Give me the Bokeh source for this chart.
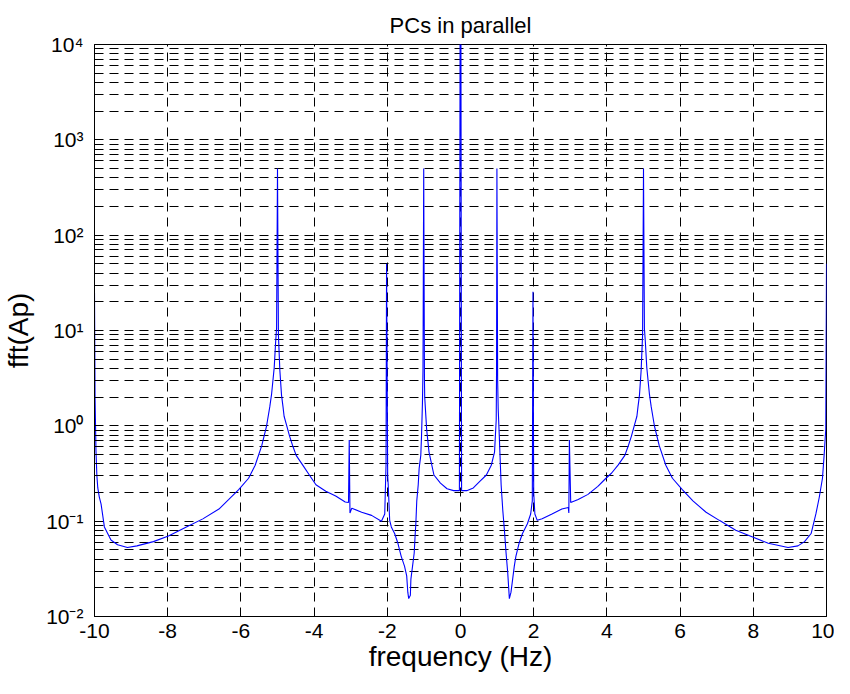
from bokeh.plotting import figure
from bokeh.models import FixedTicker, Range1d
from bokeh.embed import file_html
from bokeh.resources import INLINE

# ---- data ----
freq = [
    -10.00, -9.985, -9.96, -9.935, -9.91, -9.87, -9.82, -9.73, -9.55, -9.37,
    -9.10, -8.84, -8.39, -7.98, -7.49, -7.04, -6.60, -6.33, -6.06, -5.79,
    -5.61, -5.43, -5.30, -5.21, -5.16, -5.09, -5.05, -5.025, -5.00, -4.975,
    -4.935, -4.89, -4.85, -4.82, -4.76, -4.67, -4.58, -4.49, -4.31, -4.13,
    -3.95, -3.68, -3.41, -3.15, -3.06, -3.04, -3.02, -2.97, -2.70, -2.43,
    -2.16, -2.07, -2.054, -2.035, -2.02, -1.99, -1.975, -1.935, -1.89, -1.80,
    -1.71, -1.62, -1.53, -1.47, -1.44, -1.415, -1.37, -1.355, -1.31, -1.265,
    -1.237, -1.22, -1.195, -1.155, -1.13, -1.085, -1.065, -1.04, -1.025, -1.005,
    -0.985, -0.978, -0.925, -0.86, -0.726, -0.548, -0.368, -0.188, -0.03, -0.01,
    0.01, 0.03, 0.17, 0.35, 0.527, 0.707, 0.841, 0.93, 0.976, 0.985, 0.995,
    1.015, 1.03, 1.06, 1.11, 1.156, 1.20, 1.245, 1.29, 1.335, 1.38,
    1.425, 1.47, 1.513, 1.60, 1.694, 1.828, 1.917, 1.962, 1.98, 2.00,
    2.032, 2.097, 2.231, 2.50, 2.769, 2.946, 2.96, 2.975, 3.011, 3.215,
    3.484, 3.753, 3.933, 4.13, 4.31, 4.49, 4.58, 4.67, 4.76, 4.82,
    4.85, 4.89, 4.935, 4.975, 5.00, 5.025, 5.05, 5.09, 5.16, 5.21,
    5.30, 5.43, 5.61, 5.79, 6.06, 6.35, 6.71, 7.07, 7.52, 7.965,
    8.41, 8.95, 9.22, 9.40, 9.58, 9.71, 9.80, 9.89, 9.935, 9.98,
    10.00,
]
amp = [
    25.0, 2.0, 0.55, 0.30, 0.223, 0.18, 0.151, 0.087, 0.0635, 0.0565,
    0.053, 0.0551, 0.061, 0.0698, 0.0869, 0.1057, 0.134, 0.169, 0.214, 0.282,
    0.386, 0.619, 0.99, 1.59, 2.18, 4.08, 7.66, 10.5, 500.0, 9.0,
    3.78, 2.1, 1.59, 1.26, 1.04, 0.78, 0.61, 0.49, 0.387, 0.305,
    0.241, 0.206, 0.184, 0.159, 0.157, 0.71, 0.122, 0.137, 0.124, 0.115,
    0.100, 0.119, 0.206, 0.386, 50.0, 0.30, 0.241, 0.102, 0.087, 0.0742,
    0.0586, 0.0428, 0.0338, 0.0267, 0.018, 0.0154, 0.0167, 0.0247, 0.0338, 0.0463,
    0.0742, 0.094, 0.163, 0.241, 0.357, 0.49, 0.78, 1.72, 3.78, 500.0,
    3.0, 2.01, 0.918, 0.53, 0.305, 0.251, 0.219, 0.209, 0.209, 30000.0,
    30000.0, 0.209, 0.209, 0.223, 0.261, 0.305, 0.386, 0.53, 1.16, 3.78, 500.0,
    3.0, 1.5, 0.78, 0.241, 0.129, 0.0804, 0.0463, 0.0289, 0.0154, 0.018,
    0.0247, 0.0338, 0.0428, 0.0586, 0.0742, 0.094, 0.119, 0.163, 25.5, 0.2,
    0.119, 0.102, 0.106, 0.119, 0.134, 0.139, 0.122, 0.71, 0.157, 0.169,
    0.191, 0.232, 0.272, 0.32, 0.39, 0.49, 0.61, 0.78, 1.04, 1.26,
    1.59, 2.1, 3.78, 9.0, 500.0, 10.5, 7.66, 4.08, 2.18, 1.59,
    0.99, 0.619, 0.386, 0.282, 0.214, 0.163, 0.124, 0.102, 0.0804, 0.0687,
    0.0586, 0.053, 0.0551, 0.061, 0.0742, 0.119, 0.176, 0.282, 0.49, 0.92,
    50.0,
]

x_ticks = [-10, -8, -6, -4, -2, 0, 2, 4, 6, 8, 10]
x_tick_labels = ["-10", "-8", "-6", "-4", "-2", "0", "2", "4", "6", "8", "10"]
y_ticks = [0.01, 0.1, 1, 10, 100, 1000, 10000]
y_tick_labels = ["10\u207b\u00b2", "10\u207b\u00b9", "10\u2070", "10\u00b9",
                 "10\u00b2", "10\u00b3", "10\u2074"]
y_minor_ticks = [
    0.02, 0.03, 0.04, 0.05, 0.06, 0.07, 0.08, 0.09,
    0.2, 0.3, 0.4, 0.5, 0.6, 0.7, 0.8, 0.9,
    2, 3, 4, 5, 6, 7, 8, 9,
    20, 30, 40, 50, 60, 70, 80, 90,
    200, 300, 400, 500, 600, 700, 800, 900,
    2000, 3000, 4000, 5000, 6000, 7000, 8000, 9000,
]

title_text = "PCs in parallel"
x_label = "frequency (Hz)"
y_label = "fft(Ap)"

FONT = "Liberation Sans"

p = figure(
    width=834, height=678,
    x_range=Range1d(-10, 10), y_range=Range1d(0.01, 10000),
    y_axis_type="log",
    output_backend="svg", toolbar_location=None,
    min_border_left=92, min_border_right=8, min_border_top=44, min_border_bottom=62,
    background_fill_color="white", border_fill_color="white",
)

p.title.text = title_text
p.title.align = "center"
p.title.vertical_align = "top"
p.title.text_font = FONT
p.title.text_font_size = "22px"
p.title.text_font_style = "normal"
p.title.text_color = "black"
p.title.standoff = 10

p.outline_line_color = "black"
p.outline_line_width = 1

xt = FixedTicker(ticks=x_ticks, minor_ticks=[])
yt = FixedTicker(ticks=y_ticks, minor_ticks=y_minor_ticks)

xa = p.xaxis[0]
xa.ticker = xt
xa.major_label_overrides = {t: s for t, s in zip(x_ticks, x_tick_labels)}
xa.axis_label = x_label
ya = p.yaxis[0]
ya.ticker = yt
ya.major_label_overrides = {t: s for t, s in zip(y_ticks, y_tick_labels)}
ya.axis_label = y_label

for ax in (xa, ya):
    ax.major_label_text_font = FONT
    ax.major_label_text_font_size = "21px"
    ax.major_label_text_color = "black"
    ax.axis_label_text_font = FONT
    ax.axis_label_text_font_size = "28px"
    ax.axis_label_text_font_style = "normal"
    ax.axis_label_text_color = "black"
    ax.axis_line_color = "black"
    ax.major_tick_in = 7
    ax.major_tick_out = 0
    ax.minor_tick_in = 4
    ax.minor_tick_out = 0
    ax.major_tick_line_color = "black"
    ax.minor_tick_line_color = "black"

xa.major_label_standoff = 7
xa.axis_label_standoff = 0
ya.major_label_standoff = 11
ya.axis_label_standoff = 9

for g in (p.xgrid[0], p.ygrid[0]):
    g.grid_line_color = "black"
    g.grid_line_width = 1
    g.grid_line_dash = "9 6"
p.xgrid[0].ticker = xt
p.ygrid[0].ticker = yt
p.ygrid[0].minor_grid_line_color = "black"
p.ygrid[0].minor_grid_line_dash = "9 6"
p.ygrid[0].minor_grid_line_width = 1

p.line(freq, amp, line_color="#0000ff", line_width=1.1)

open("out.html", "w").write(file_html(p, INLINE))
